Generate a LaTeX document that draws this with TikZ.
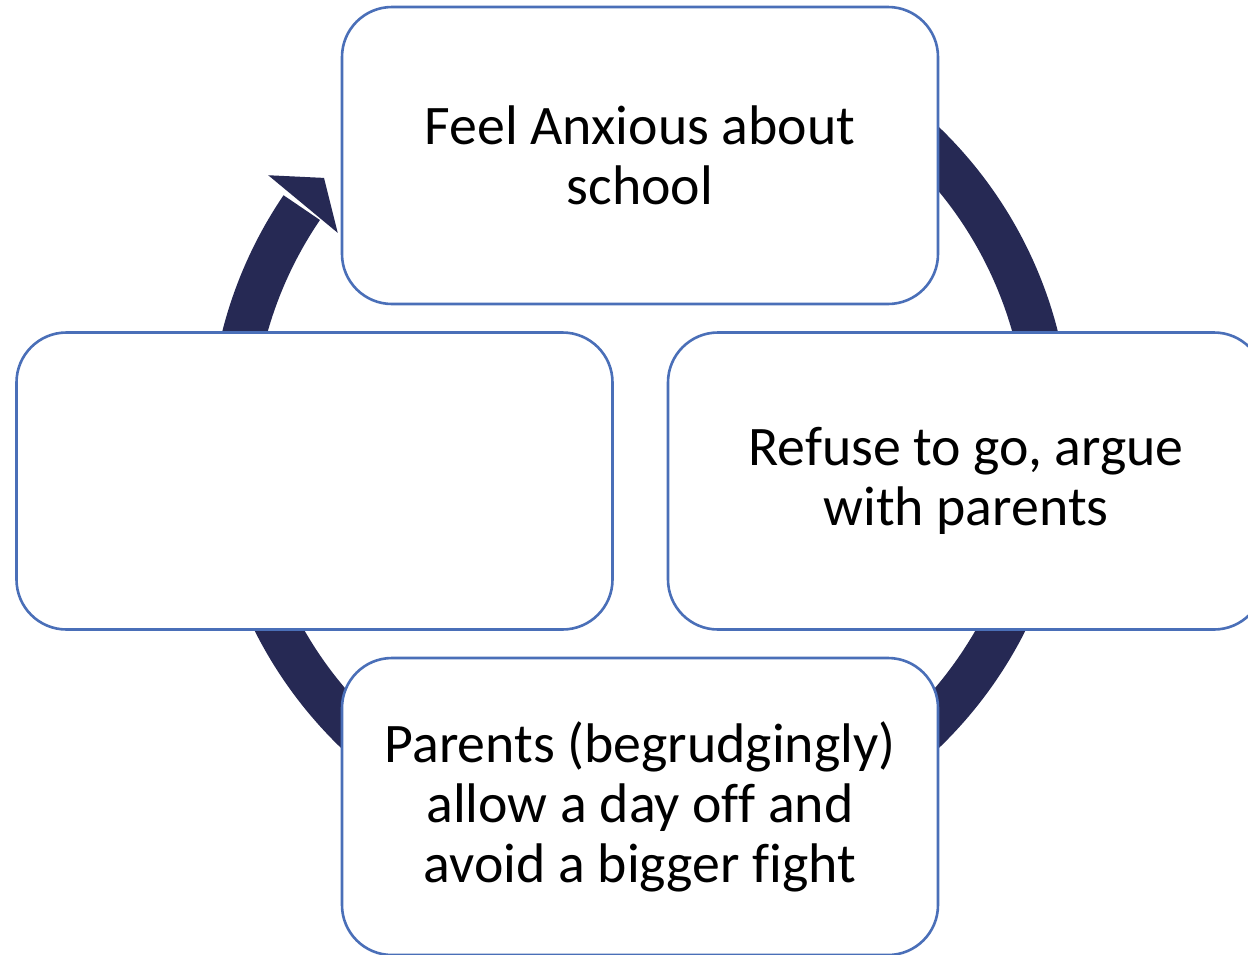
\documentclass[tikz,border=0pt]{standalone}
\usepackage{fontspec}
\setmainfont[Ligatures=NoCommon]{Carlito}
\usetikzlibrary{calc}
\definecolor{ringnavy}{RGB}{38,41,84}
\definecolor{boxblue}{RGB}{74,111,184}
\tikzset{
  stagebox/.style={draw=boxblue, line width=2.6pt, fill=white,
    rounded corners=50pt, minimum width=596pt, minimum height=297pt,
    inner sep=0pt, align=center, text=black,
    font=\fontsize{55.8}{60}\selectfont},
}
\begin{document}
\begin{tikzpicture}[x=1pt,y=1pt]
\useasboundingbox (0,0) rectangle (1248,-954);
\fill[white] (0,0) rectangle (1248,-954);

% centre of the cycle ring
\coordinate (C) at (640,-437.5);

% thick ring running clockwise, ending in an arrowhead at upper left
\fill[ringnavy]
  ($(C)+(90:431pt)$) arc[start angle=90, end angle=-214.2, radius=431pt]
  -- ($(C)+(-214.2:387pt)$) arc[start angle=-214.2, end angle=90, radius=387pt]
  -- cycle;
\fill[ringnavy]
  ($(C)+(144.8:455pt)$) -- ($(C)+(140.6:409pt)$) -- ($(C)+(145.9:365pt)$) -- cycle;

% the four stages
\node[stagebox] (anxious) at (640,-155.5) {Feel Anxious about\\school};
\node[stagebox] (refuse)  at (966,-481)   {Refuse to go, argue\\with parents};
\node[stagebox] (allow)   at (640,-806.5) {Parents (begrudgingly)\\allow a day off and\\avoid a bigger fight};
\node[stagebox] (blank)   at (314.5,-481) {};
\end{tikzpicture}
\end{document}
